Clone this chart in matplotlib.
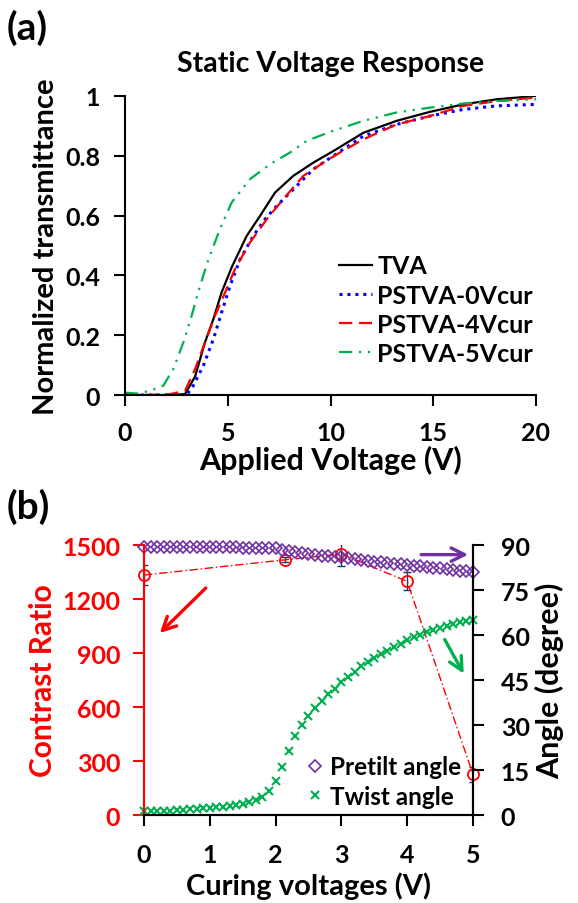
import matplotlib
matplotlib.use("Agg")
import matplotlib.pyplot as plt

plt.rcParams['font.family'] = ['Lato', 'DejaVu Sans']
plt.rcParams['font.weight'] = 'bold'
plt.rcParams['axes.labelweight'] = 'bold'

# ---- panel (a): static voltage response ----
v_tva = [0, 1, 2, 2.92, 3.41, 3.89, 4.30, 4.70, 5.19, 5.92, 6.57, 7.30, 8.19, 9.16,
         10.14, 11.6, 13.22, 14.84, 16.46, 18.09, 20]
t_tva = [0, 0, 0, 0.003, 0.062, 0.176, 0.254, 0.343, 0.427, 0.532, 0.599, 0.677, 0.733, 0.777,
         0.816, 0.877, 0.917, 0.947, 0.972, 0.989, 1.0]

v_0v = [0, 1, 2, 3.0, 3.32, 3.81, 4.30, 4.70, 5.11, 5.60, 6.24, 6.81, 7.38, 8.19, 9.16,
        10.14, 11.6, 13.22, 14.84, 16.46, 18.09, 20]
t_0v = [0, 0, 0, 0, 0.031, 0.098, 0.187, 0.276, 0.365, 0.454, 0.532, 0.588, 0.632, 0.688, 0.755,
        0.80, 0.866, 0.905, 0.933, 0.955, 0.967, 0.972]

v_4v = [0, 1, 2.19, 2.92, 3.41, 3.89, 4.38, 4.87, 5.35, 6.08, 6.90, 7.70, 8.68, 9.65,
        10.46, 11.6, 13.22, 14.84, 16.46, 18.09, 20]
t_4v = [0, 0, 0.003, 0.014, 0.087, 0.176, 0.265, 0.343, 0.421, 0.510, 0.588, 0.655, 0.733, 0.777,
        0.811, 0.855, 0.905, 0.933, 0.967, 0.983, 0.995]

v_5v = [0, 0.6, 1.22, 1.86, 2.35, 2.84, 3.24, 3.65, 4.06, 4.62, 5.19, 6.08, 7.06, 8.03,
        8.84, 9.98, 11.6, 13.22, 14.84, 16.46, 18.09, 20]
t_5v = [0.008, 0.005, 0.014, 0.031, 0.087, 0.176, 0.265, 0.365, 0.454, 0.555, 0.644, 0.722, 0.772, 0.811,
        0.85, 0.88, 0.917, 0.945, 0.961, 0.975, 0.983, 0.989]

# ---- panel (b): curing voltage dependence ----
cv = [round(0.1 * i, 1) for i in range(51)]
pretilt = [89.2, 89.2, 89.2, 89.2, 89.2, 89.2, 89.2, 89.2, 89.2, 89.2,
           89.2, 89.2, 89.2, 89.2, 89.2, 89.1, 89.1, 89.1, 89.0, 89.0,
           88.9, 88.5, 88.0, 87.7, 87.4, 87.1, 86.8, 86.5, 86.3, 86.1,
           85.9, 85.6, 85.3, 85.0, 84.7, 84.4, 84.2, 84.0, 83.8, 83.6,
           83.3, 83.1, 82.9, 82.6, 82.4, 82.2, 82.0, 81.7, 81.4, 81.2, 80.9]
twist = [1.2, 1.2, 1.3, 1.4, 1.5, 1.6, 1.8, 1.9, 2.1, 2.2,
         2.4, 2.6, 2.8, 3.0, 3.3, 3.8, 4.4, 5.1, 6.0, 8.0,
         11.2, 15.9, 21.4, 26.4, 30.1, 33.1, 35.6, 37.9, 40.3, 42.0,
         44.2, 45.9, 47.6, 49.6, 51.1, 52.4, 53.7, 54.8, 55.9, 57.1,
         58.3, 59.2, 60.0, 60.9, 61.8, 62.5, 63.1, 63.6, 64.2, 64.6, 65.0]
cr_v = [0, 2.15, 3, 4, 5]
cr = [1333, 1418, 1450, 1298, 226]
cr_err = [55, 15, 65, 50, 40]

fig = plt.figure(figsize=(5.78, 9.04), dpi=100)

# ---------------- (a) ----------------
ax = fig.add_axes([0.2163, 0.5619, 0.711, 0.3308])
ax.plot(v_tva, t_tva, color='black', lw=1.6, label='TVA')
ax.plot(v_0v, t_0v, color='#0000ff', lw=2.2, ls=(0, (1, 1.6)), label='PSTVA-0Vcur')
ax.plot(v_4v, t_4v, color='#ff0000', lw=1.6, ls=(0, (6, 3)), label='PSTVA-4Vcur')
ax.plot(v_5v, t_5v, color='#00b050', lw=1.6, ls=(0, (6, 3, 1, 3, 1, 3)), label='PSTVA-5Vcur')
ax.set_xlim(0, 20)
ax.set_ylim(0, 1)
ax.set_xticks([0, 5, 10, 15, 20])
ax.set_yticks([0, 0.2, 0.4, 0.6, 0.8, 1])
ax.set_yticklabels(['0', '0.2', '0.4', '0.6', '0.8', '1'])
for s in ['top', 'right']:
    ax.spines[s].set_visible(False)
for s in ['left', 'bottom']:
    ax.spines[s].set_linewidth(1.5)
ax.tick_params(axis='both', direction='out', length=8, width=1.5, labelsize=18)
ax.tick_params(axis='x', pad=11)
ax.tick_params(axis='y', pad=10)
ax.set_xlabel('Applied Voltage (V)', fontsize=22, labelpad=0)
ax.set_ylabel('Normalized transmittance', fontsize=21, labelpad=4)
ax.set_title('Static Voltage Response', fontsize=20.5, fontweight='bold', pad=18)
ax.legend(loc='upper left', bbox_to_anchor=(0.521, 0.47), frameon=False, fontsize=18,
          handlelength=1.32, handletextpad=0.2, labelspacing=0.25, borderpad=0, borderaxespad=0)
fig.text(0.012, 0.969, '(a)', fontsize=28, fontweight='bold', va='center')

# ---------------- (b) ----------------
bx = fig.add_axes([0.2491, 0.0973, 0.5692, 0.2987])
bx2 = bx.twinx()
bx.errorbar(cr_v, cr, yerr=cr_err, fmt='none', ecolor='#203864', elinewidth=1, capsize=3, zorder=2)
bx.plot(cr_v, cr, color='#ff0000', lw=1, ls=(0, (6, 2, 1, 2)), marker='o', ms=8,
        mfc='none', mec='#ff0000', mew=1.3, clip_on=False, zorder=3)
bx2.plot(cv, pretilt, ls='none', marker='D', ms=6, mfc='none', mec='#7030a0', mew=1.2,
         clip_on=False, label='Pretilt angle')
bx2.plot(cv, twist, ls='none', marker='x', ms=5.5, mec='#00b050', mew=1.5,
         clip_on=False, label='Twist angle')

bx.set_xlim(0, 5)
bx.set_ylim(0, 1500)
bx2.set_ylim(0, 90)
bx.set_xticks([0, 1, 2, 3, 4, 5])
bx.set_yticks([0, 300, 600, 900, 1200, 1500])
bx2.set_yticks([0, 15, 30, 45, 60, 75, 90])
for a in (bx, bx2):
    a.spines['top'].set_visible(False)
    for s in ['left', 'right', 'bottom']:
        a.spines[s].set_linewidth(1.5)
bx.spines['left'].set_color('#ff0000')
bx2.spines['left'].set_color('#ff0000')
bx.tick_params(axis='y', colors='#ff0000', direction='out', length=8, width=1.5, labelsize=18, pad=9)
bx.tick_params(axis='x', direction='out', length=8, width=1.5, labelsize=18, pad=12)
bx2.tick_params(axis='y', direction='out', length=8, width=1.5, labelsize=18, pad=12)
bx.set_xlabel('Curing voltages (V)', fontsize=21, labelpad=4)
bx.set_ylabel('Contrast Ratio', fontsize=21.5, color='#ff0000', labelpad=4)
bx2.set_ylabel('Angle (degree)', fontsize=22, labelpad=4)

bx.annotate('', xy=(0.21, 1000), xytext=(0.97, 1272),
            arrowprops=dict(arrowstyle='->', color='#ff0000', lw=2.4, mutation_scale=24))
bx2.annotate('', xy=(4.97, 86.8), xytext=(4.17, 86.8),
             arrowprops=dict(arrowstyle='->', color='#7030a0', lw=2.4, mutation_scale=24),
             annotation_clip=False)
bx2.annotate('', xy=(4.88, 46.3), xytext=(4.55, 59.3),
             arrowprops=dict(arrowstyle='->', color='#00b050', lw=2.4, mutation_scale=24))

bx2.legend(loc='upper left', bbox_to_anchor=(0.486, 0.222), frameon=False, fontsize=17.5,
           handlelength=0.9, handletextpad=0.17, labelspacing=0.28, borderpad=0, borderaxespad=0,
           numpoints=1)
fig.text(0.012, 0.439, '(b)', fontsize=28, fontweight='bold', va='center')

fig.savefig('out.png', dpi=100)
